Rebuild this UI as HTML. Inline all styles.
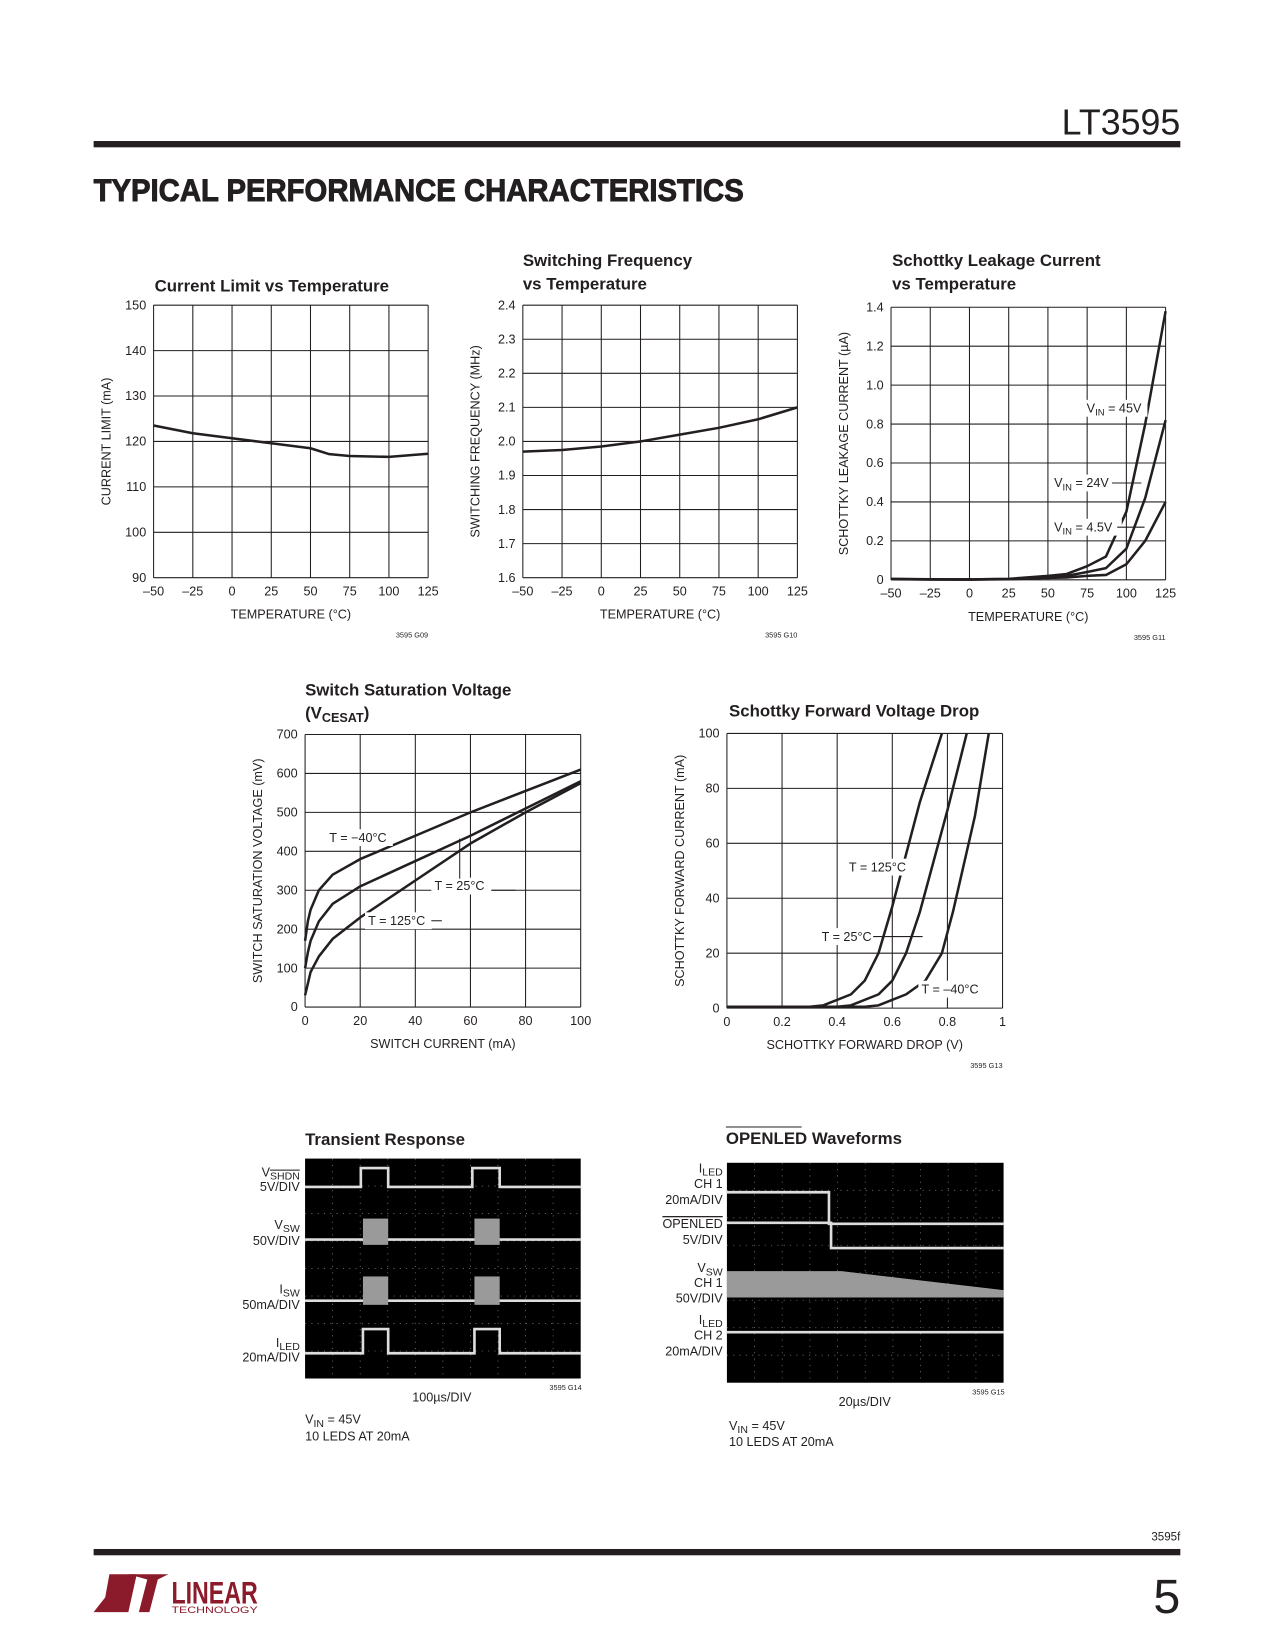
<!DOCTYPE html>
<html><head><meta charset="utf-8"><style>
html,body{margin:0;padding:0;background:#fff;}
svg{display:block;font-family:"Liberation Sans",sans-serif;}
.t{font-size:12px;fill:#231f20;}
.ti{font-size:16px;font-weight:bold;fill:#231f20;}
.g{stroke:#231f20;stroke-width:1;fill:none;}
.c{stroke:#231f20;stroke-width:2.4;fill:none;stroke-linejoin:round;}
.sm{font-size:7px;fill:#231f20;}
</style></head><body>
<svg id="page" width="1275" height="1650" viewBox="0 0 1212 1568" preserveAspectRatio="none" xmlns="http://www.w3.org/2000/svg">
<text x="1122" y="128" text-anchor="end" style="font-size:34px;fill:#231f20;font-weight:300">LT3595</text>
<rect x="89" y="134" width="1033" height="6" fill="#231f20"/>
<text x="89" y="191" textLength="618" lengthAdjust="spacingAndGlyphs" style="font-size:30px;font-weight:bold;fill:#231f20;stroke:#231f20;stroke-width:0.9">TYPICAL PERFORMANCE CHARACTERISTICS</text>
<g id="charts"></g>
<g id="scopes"></g>
<text x="1122" y="1464" text-anchor="end" style="font-size:11px;fill:#231f20">3595f</text>
<rect x="89" y="1472" width="1033" height="6" fill="#231f20"/>
<text x="1122" y="1533" text-anchor="end" style="font-size:46px;fill:#231f20;font-weight:300">5</text>
<g fill="#8b1a2a">
<polygon points="104,1496 130,1496 122,1532 89,1532 100,1518"/>
<polygon points="122,1496 160,1496 150,1501 142,1532 132,1532 140,1501"/>
<text x="163" y="1524" style="font-size:30px;font-weight:bold" textLength="82" lengthAdjust="spacingAndGlyphs">LINEAR</text>
<text x="163" y="1533" style="font-size:9px" textLength="82" lengthAdjust="spacingAndGlyphs">TECHNOLOGY</text>
</g>
</svg>
<script>
// ---- Chart 1: current limit vs temperature
const c1Temp=[-50,-25,0,25,50,62,75,100,125];
const c1Limit=[123.5,121.8,120.7,119.6,118.5,117.2,116.8,116.6,117.3];
const tempTicks=[-50,-25,0,25,50,75,100,125];
const c1YTicks=[90,100,110,120,130,140,150];
// ---- Chart 2: switching frequency
const c2Temp=[-50,-25,0,25,50,75,100,125];
const c2Freq=[1.97,1.975,1.985,2.0,2.02,2.04,2.065,2.1];
const c2YTicks=[1.6,1.7,1.8,1.9,2.0,2.1,2.2,2.3,2.4];
// ---- Chart 3: schottky leakage
const c3Temp=[-50,-25,0,25,50,62,75,87,100,112,125];
const c3V45=[0.005,0.003,0.002,0.005,0.02,0.03,0.07,0.12,0.35,0.8,1.38];
const c3V24=[0.004,0.002,0.002,0.004,0.015,0.02,0.04,0.06,0.16,0.42,0.82];
const c3V45b=[0.003,0.002,0.001,0.003,0.01,0.012,0.02,0.025,0.08,0.2,0.4];
const c3YTicks=[0,0.2,0.4,0.6,0.8,1.0,1.2,1.4];
const c3YLabels=["0","0.2","0.4","0.6","0.8","1.0","1.2","1.4"];
// ---- Chart 4: VCESAT
const c4Cur=[0,1,2,5,10,20,40,60,80,100];
const c4Tm40=[170,220,250,300,340,380,440,500,555,610];
const c4T25=[100,140,170,220,265,310,375,440,510,580];
const c4T125=[30,60,90,130,175,230,325,420,500,575];
const c4XTicks=[0,20,40,60,80,100];
const c4YTicks=[0,100,200,300,400,500,600,700];
// ---- Chart 5: schottky forward
const c5V125=[0,0.3,0.35,0.45,0.5,0.55,0.6,0.7,0.78];
const c5I125=[0.5,0.5,1,5,10,20,37,75,100];
const c5V25=[0,0.4,0.45,0.55,0.6,0.65,0.7,0.8,0.87];
const c5I25=[0.5,0.5,1,5,10,20,35,72,100];
const c5Vm40=[0,0.5,0.55,0.65,0.72,0.78,0.82,0.9,0.95];
const c5Im40=[0.5,0.5,1,5,10,20,35,70,100];
const c5XTicks=[0,0.2,0.4,0.6,0.8,1];
const c5XLabels=["0","0.2","0.4","0.6","0.8","1"];
const c5YTicks=[0,20,40,60,80,100];

const NS="http://www.w3.org/2000/svg";
const root=document.getElementById('charts');
function mk(tag,attrs,parent,text){const e=document.createElementNS(NS,tag);for(const k in attrs)e.setAttribute(k,attrs[k]);if(text!==undefined)e.textContent=text;(parent||root).appendChild(e);return e;}
function fmtT(v){return v<0?"\u2013"+(-v):String(v);}
function chart(name,o){
  const g=mk('g',{});
  
  
  const sx=v=>o.x0+(v-o.xd[0])/(o.xd[1]-o.xd[0])*(o.x1-o.x0);
  const sy=v=>o.y1-(v-o.yd[0])/(o.yd[1]-o.yd[0])*(o.y1-o.y0);
  o.xt.forEach((v,i)=>{const x=sx(v);const l=mk('line',{x1:x,x2:x,y1:o.y0,y2:o.y1,class:'g'},g);
    const t=mk('text',{x:x,y:o.y1+17,'text-anchor':'middle',class:'t'},g,o.xl?o.xl[i]:fmtT(v));});
  o.yt.forEach((v,i)=>{const y=sy(v);const l=mk('line',{x1:o.x0,x2:o.x1,y1:y,y2:y,class:'g'},g);
    const t=mk('text',{x:o.x0-7,y:y+4,'text-anchor':'end',class:'t'},g,o.yl?o.yl[i]:String(v));});
  const xt=mk('text',{x:(o.x0+o.x1)/2,y:o.y1+39,'text-anchor':'middle',class:'t'},g,o.xtitle);
  
  const cy=(o.y0+o.y1)/2;
  const yt=mk('text',{x:o.ytx,y:cy,'text-anchor':'middle',class:'t',transform:`rotate(-90 ${o.ytx} ${cy})`},g,o.ytitle);
  
  o.title.forEach((s,i)=>{const t=mk('text',{x:o.tx,y:o.ty+i*22,class:'ti'},g,s);});
  o.series.forEach(s=>{const p=mk('polyline',{points:s.x.map((v,i)=>sx(v)+','+sy(s.y[i])).join(' '),class:'c'},g);
    });
  if(o.code){const t=mk('text',{x:o.x1,y:o.y1+57,'text-anchor':'end',class:'sm'},g,o.code);}
  return {g,sx,sy};
}
chart('current-limit-chart',{x0:146,x1:407,y0:290,y1:549,xd:[-50,125],yd:[90,150],xt:tempTicks,yt:c1YTicks,xtitle:'TEMPERATURE (\u00B0C)',ytitle:'CURRENT LIMIT (mA)',ytx:105,title:['Current Limit vs Temperature'],tx:147,ty:277,code:'3595 G09',series:[{name:'current-limit-line',x:c1Temp,y:c1Limit}]});
chart('switching-frequency-chart',{x0:497,x1:758,y0:290,y1:549,xd:[-50,125],yd:[1.6,2.4],xt:tempTicks,yt:c2YTicks,yl:c2YTicks.map(v=>v.toFixed(1)),xtitle:'TEMPERATURE (\u00B0C)',ytitle:'SWITCHING FREQUENCY (MHz)',ytx:456,title:['Switching Frequency','vs Temperature'],tx:497,ty:253,code:'3595 G10',series:[{name:'frequency-line',x:c2Temp,y:c2Freq}]});
const ch3=chart('schottky-leakage-chart',{x0:847,x1:1108,y0:292,y1:551,xd:[-50,125],yd:[0,1.4],xt:tempTicks,yt:c3YTicks,yl:c3YLabels,xtitle:'TEMPERATURE (\u00B0C)',ytitle:'SCHOTTKY LEAKAGE CURRENT (\u00B5A)',ytx:806,title:['Schottky Leakage Current','vs Temperature'],tx:848,ty:253,code:'3595 G11',series:[{name:'vin-45v-line',x:c3Temp,y:c3V45},{name:'vin-24v-line',x:c3Temp,y:c3V24},{name:'vin-4p5v-line',x:c3Temp,y:c3V45b}]});
const ch4=chart('vcesat-chart',{x0:290,x1:552,y0:698,y1:957,xd:[0,100],yd:[0,700],xt:c4XTicks,yt:c4YTicks,xtitle:'SWITCH CURRENT (mA)',ytitle:'SWITCH SATURATION VOLTAGE (mV)',ytx:249,title:['Switch Saturation Voltage','(V'],tx:290,ty:661,series:[{name:'t-minus40-line',x:c4Cur,y:c4Tm40},{name:'t-25-line',x:c4Cur,y:c4T25},{name:'t-125-line',x:c4Cur,y:c4T125}]});
const ch5=chart('schottky-forward-chart',{x0:691,x1:953,y0:697,y1:958,xd:[0,1],yd:[0,100],xt:c5XTicks,xl:c5XLabels,yt:c5YTicks,xtitle:'SCHOTTKY FORWARD DROP (V)',ytitle:'SCHOTTKY FORWARD CURRENT (mA)',ytx:650,title:['Schottky Forward Voltage Drop'],tx:693,ty:681,code:'3595 G13',series:[{name:'t-125-line',x:c5V125,y:c5I125},{name:'t-25-line',x:c5V25,y:c5I25},{name:'t-minus40-line',x:c5Vm40,y:c5Im40}]});
const vt=[...ch4.g.querySelectorAll('text.ti')][1];
const ts=mk('tspan',{'font-size':'12','dy':'3'},vt,'CESAT');const te=mk('tspan',{'dy':'-3'},vt,')');
function label(g,x,y,main,sub,rest,name){const r=mk('rect',{x:x-3,y:y-12,width:(main.length+(sub||'').length*0.8+(rest||'').length)*6.6+4,height:16,fill:'#fff'},g);
  const t=mk('text',{x:x,y:y,class:'t'},g);
  mk('tspan',{},t,main);if(sub){mk('tspan',{'font-size':'9','dy':'3'},t,sub);mk('tspan',{'dy':'-3'},t,rest);}return t;}
label(ch3.g,1033,392,'V','IN',' = 45V','vin-45v-label');
label(ch3.g,1002,463,'V','IN',' = 24V','vin-24v-label');
label(ch3.g,1002,505,'V','IN',' = 4.5V','vin-4p5v-label');
mk('line',{x1:1057,x2:1085,y1:459,y2:459,class:'g'},ch3.g);
mk('line',{x1:1062,x2:1088,y1:501,y2:501,class:'g'},ch3.g);
label(ch4.g,313,800,'T = \u221240\u00B0C','','','t-minus40-label');
label(ch4.g,413,846,'T = 25\u00B0C','','','t-25-label');
label(ch4.g,350,879,'T = 125\u00B0C','','','t-125-label');
mk('line',{x1:468,x2:490,y1:846,y2:846,class:'g'},ch4.g);
mk('line',{x1:437,x2:437,y1:835,y2:797,class:'g'},ch4.g);
mk('line',{x1:410,x2:420,y1:875,y2:875,class:'g'},ch4.g);
label(ch5.g,807,828,'T = 125\u00B0C','','','t-125-label');
label(ch5.g,781,894,'T = 25\u00B0C','','','t-25-label');
label(ch5.g,876,944,'T = \u201340\u00B0C','','','t-minus40-label');
mk('line',{x1:830,x2:877,y1:890,y2:890,class:'g'},ch5.g);

const sc=document.getElementById('scopes');
function scope(name,x0,y0,w,h){const g=mk('g',{},sc);
  mk('rect',{x:x0,y:y0,width:w,height:h,fill:'#000'},g);
  for(let i=1;i<10;i++){const x=x0+w*i/10;mk('line',{x1:x,x2:x,y1:y0,y2:y0+h,stroke:'#777','stroke-width':0.8,'stroke-dasharray':'1 5'},g);}
  for(let j=1;j<8;j++){const y=y0+h*j/8;mk('line',{x1:x0,x2:x0+w,y1:y,y2:y,stroke:'#777','stroke-width':0.8,'stroke-dasharray':'1 5'},g);}
  return g;}
function tr(g,pts,name){const p=mk('polyline',{points:pts,stroke:'#ddd','stroke-width':2.5,fill:'none'},g);}
function blk(g,x,y,w,h,name){const r=mk('rect',{x,y,width:w,height:h,fill:'#9a9a9a'},g);}
const s1=scope('transient-scope',290,1101,262,209);
tr(s1,'290,1128 343,1128 343,1110 369,1110 369,1128 449,1128 449,1110 475,1110 475,1128 552,1128','vshdn-trace');
tr(s1,'290,1178 552,1178','vsw-trace');blk(s1,345,1158,24,25,'vsw-burst');blk(s1,451,1158,24,25,'vsw-burst');
tr(s1,'290,1236 552,1236','isw-trace');blk(s1,345,1213,24,27,'isw-burst');blk(s1,451,1213,24,27,'isw-burst');
tr(s1,'290,1286 345,1286 345,1263 369,1263 369,1286 451,1286 451,1263 475,1263 475,1286 552,1286','iled-trace');
const s2=scope('openled-scope',691,1105,263,209);
tr(s2,'691,1133 788,1133 788,1163 954,1163','iled-ch1-trace');
tr(s2,'691,1162 790,1162 790,1186 954,1186','openled-trace');
const pg=mk('polygon',{points:'691,1208 800,1208 954,1226 954,1233 691,1233',fill:'#9a9a9a'},s2);
tr(s2,'691,1266 954,1266','iled-ch2-trace');
function txt(x,y,s,anchor,name,sub,rest,over){const t=mk('text',{x,y,class:'t','text-anchor':anchor||'start'},sc);
  mk('tspan',{},t,s);if(sub){const sp=mk('tspan',{'font-size':'10','dy':'3'},t,sub);if(over)sp.setAttribute('text-decoration','overline');mk('tspan',{'dy':'-3'},t,rest||'');}return t;}
[['Transient Response',290,1088],['OPENLED Waveforms',690,1087]].forEach(a=>{const t=mk('text',{x:a[1],y:a[2],class:'ti'},sc,a[0]);});
mk('line',{x1:690,x2:762,y1:1071,y2:1071,class:'g'},sc);
txt(285,1118,'V','end','vshdn-label','SHDN','',true);txt(285,1132,'5V/DIV','end','vshdn-scale');
txt(285,1168,'V','end','vsw-label','SW');txt(285,1183,'50V/DIV','end','vsw-scale');
txt(285,1229,'I','end','isw-label','SW');txt(285,1244,'50mA/DIV','end','isw-scale');
txt(285,1280,'I','end','iled-label','LED');txt(285,1294,'20mA/DIV','end','iled-scale');
txt(420,1332,'100\u00B5s/DIV','middle','time-scale');
txt(290,1353,'V','start','vin-note','IN',' = 45V');txt(290,1369,'10 LEDS AT 20mA','start','led-note');
const cd1=mk('text',{x:553,y:1321,class:'sm','text-anchor':'end'},sc,'3595 G14');
txt(687,1114,'I','end','iled-ch1-label','LED');txt(687,1129,'CH 1','end','ch1-label');txt(687,1144,'20mA/DIV','end','iled-ch1-scale');
const ol=txt(687,1167,'OPENLED','end','openled-label');ol.setAttribute('text-decoration','overline');txt(687,1182,'5V/DIV','end','openled-scale');
txt(687,1209,'V','end','vsw-ch1-label','SW');txt(687,1223,'CH 1','end','ch1-label');txt(687,1238,'50V/DIV','end','vsw-ch1-scale');
txt(687,1258,'I','end','iled-ch2-label','LED');txt(687,1273,'CH 2','end','ch2-label');txt(687,1288,'20mA/DIV','end','iled-ch2-scale');
txt(822,1336,'20\u00B5s/DIV','middle','time-scale');
txt(693,1359,'V','start','vin-note','IN',' = 45V');txt(693,1374,'10 LEDS AT 20mA','start','led-note');
const cd2=mk('text',{x:955,y:1325,class:'sm','text-anchor':'end'},sc,'3595 G15');
</script>
</body></html>
